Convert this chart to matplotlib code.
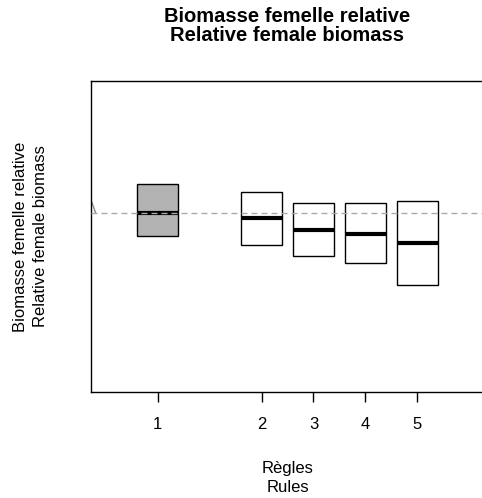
import matplotlib
matplotlib.use("Agg")
import matplotlib.pyplot as plt

plt.rcParams['font.family'] = ['Liberation Sans', 'DejaVu Sans']

# Rule labels and their positions along the x axis
rules = ["1", "2", "3", "4", "5"]
positions = [1, 3, 4, 5, 6]

# Box statistics (relative female biomass)
q1 = [0.873, 0.820, 0.760, 0.719, 0.598]
medians = [1.000, 0.970, 0.903, 0.881, 0.832]
q3 = [1.162, 1.119, 1.058, 1.058, 1.065]
fills = ["#b3b3b3", "white", "white", "white", "white"]

# Reference level and the tail of the historical trajectory
ref_level = 1.0
hist_x = [-0.28, -0.19]
hist_y = [1.073, 1.0]

fig = plt.figure(figsize=(4.82, 4.98), dpi=100)
W, H = 482, 498
ax = fig.add_axes([91 / W, (H - 392) / H, (484 - 91) / W, (392 - 81) / H])

stats = []
for i in range(len(rules)):
    stats.append(dict(med=medians[i], q1=q1[i], q3=q3[i],
                      whislo=q1[i], whishi=q3[i], fliers=[], label=rules[i]))

bp = ax.bxp(stats, positions=positions, widths=0.8, patch_artist=True,
            showcaps=False, showfliers=False, manage_ticks=False,
            boxprops=dict(edgecolor="black", linewidth=1.0),
            medianprops=dict(color="black", linewidth=3.0, solid_capstyle="butt"),
            whiskerprops=dict(linewidth=0))
for patch, c in zip(bp["boxes"], fills):
    patch.set_facecolor(c)

ax.axhline(ref_level, color="#aaaaaa", linewidth=1.0, dashes=(4.3, 2.9), zorder=3)
ax.plot(hist_x, hist_y, color="#888888", linewidth=1.0)

ax.set_xlim(-0.28, 7.28)
ax.set_ylim(0, 1.737)
ax.set_xticks(positions, rules)
ax.set_yticks([])
ax.tick_params(axis="x", length=7.2, width=1.0, pad=11, labelsize=12)
for side in ["left", "top", "bottom", "right"]:
    ax.spines[side].set_linewidth(1.0)
ax.spines["right"].set_visible(False)

# Titles and axis labels
fig.text(287 / W, 1 - 21.5 / H, "Biomasse femelle relative", ha="center",
         va="baseline", fontsize=14.5, fontweight="bold")
fig.text(287 / W, 1 - 41 / H, "Relative female biomass", ha="center",
         va="baseline", fontsize=14.5, fontweight="bold")
fig.text(288 / W, 1 - 473 / H, "Règles", ha="center", va="baseline", fontsize=12)
fig.text(288 / W, 1 - 492 / H, "Rules", ha="center", va="baseline", fontsize=12)
fig.text(25 / W, 1 - 236.5 / H, "Biomasse femelle relative", rotation=90,
         ha="center", va="baseline", fontsize=12, rotation_mode="anchor")
fig.text(45 / W, 1 - 236.5 / H, "Relative female biomass", rotation=90,
         ha="center", va="baseline", fontsize=12, rotation_mode="anchor")

fig.savefig("out.png", dpi=100)
